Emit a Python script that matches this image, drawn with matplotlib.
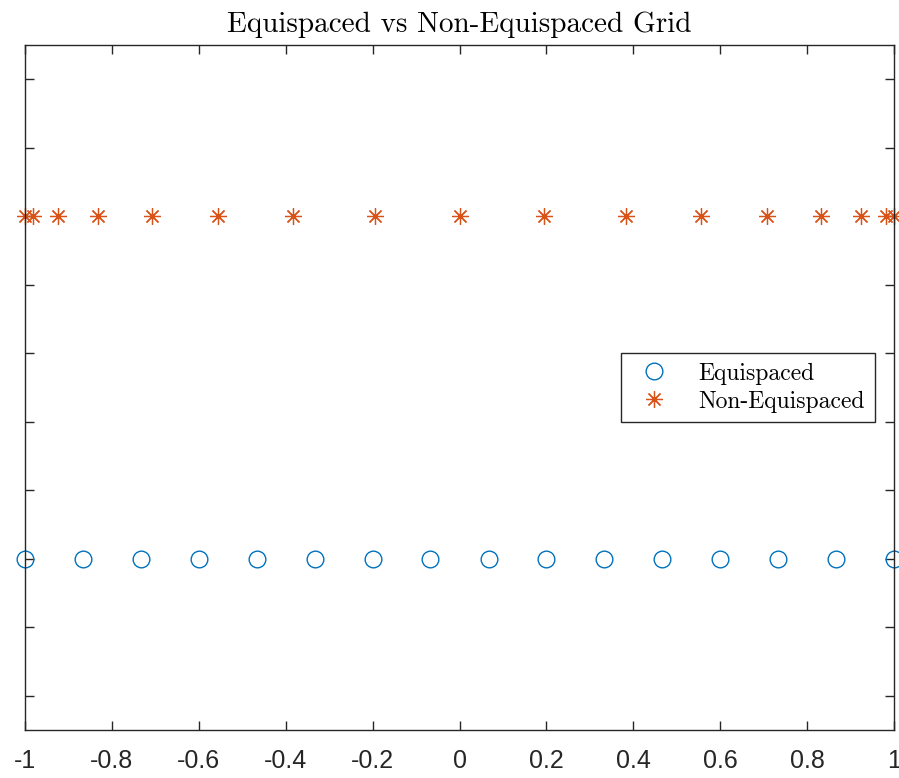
import matplotlib
matplotlib.use("Agg")
import matplotlib.pyplot as plt

# grid points
x_equi = [-1.0, -0.867, -0.733, -0.6, -0.467, -0.333, -0.2, -0.067,
          0.067, 0.2, 0.333, 0.467, 0.6, 0.733, 0.867, 1.0]
x_cheb = [-1.0, -0.981, -0.924, -0.831, -0.707, -0.556, -0.383, -0.195,
          0.0, 0.195, 0.383, 0.556, 0.707, 0.831, 0.924, 0.981, 1.0]
y_equi = [1.0] * len(x_equi)
y_cheb = [2.0] * len(x_cheb)

x_ticks = [-1, -0.8, -0.6, -0.4, -0.2, 0, 0.2, 0.4, 0.6, 0.8, 1]
x_ticklabels = ["-1", "-0.8", "-0.6", "-0.4", "-0.2", "0", "0.2", "0.4", "0.6", "0.8", "1"]
y_ticks = [0.6, 0.8, 1.0, 1.2, 1.4, 1.6, 1.8, 2.0, 2.2, 2.4]

plt.rcParams['axes.unicode_minus'] = False

fig = plt.figure(figsize=(8.99, 7.78), dpi=100)
ax = fig.add_axes([25 / 899, 48 / 778, 869 / 899, 685 / 778])

ax.plot(x_equi, y_equi, linestyle='none', marker='o', markersize=12,
        markerfacecolor='none', markeredgecolor='#0072BD', markeredgewidth=1.0,
        clip_on=False, label='Equispaced')
ax.plot(x_cheb, y_cheb, linestyle='none', marker=(8, 2, 0), markersize=12,
        color='#D95319', markeredgewidth=0.9, clip_on=False, label='Non-Equispaced')

ax.set_xlim(-1, 1)
ax.set_ylim(0.5, 2.5)
ax.set_xticks(x_ticks)
ax.set_xticklabels(x_ticklabels, fontfamily='Liberation Sans', fontsize=18, color='#262626')
ax.set_yticks(y_ticks)
ax.set_yticklabels([])
ax.tick_params(direction='in', length=6.5, width=1, color='#262626',
               top=True, right=True)
ax.tick_params(axis='x', pad=14)
for sp in ax.spines.values():
    sp.set_color('#262626')
    sp.set_linewidth(1)

ax.set_title('Equispaced vs Non-Equispaced Grid', fontfamily='cmr10',
             fontsize=21, pad=9)

leg = ax.legend(loc='center left', bbox_to_anchor=(584 / 869, 0.5),
                prop={'family': 'cmr10', 'size': 17}, fancybox=False,
                edgecolor='#262626', framealpha=1, borderpad=0.4,
                handletextpad=0.9, handlelength=2.0, labelspacing=0.25)
leg.get_frame().set_linewidth(1)

fig.savefig('out.png', dpi=100)
